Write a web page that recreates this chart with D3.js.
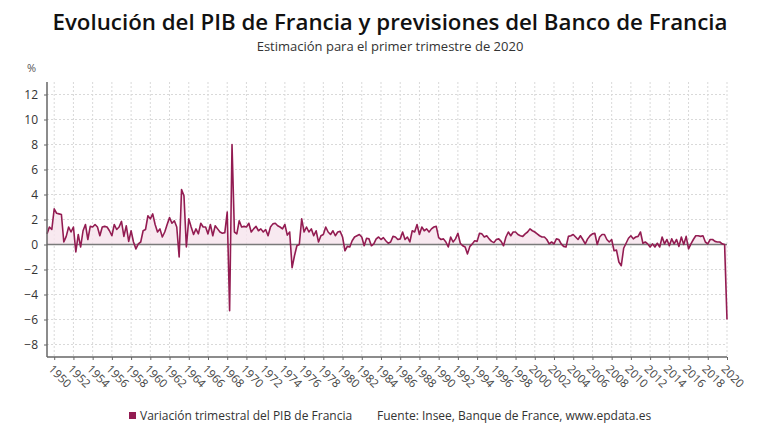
<!DOCTYPE html>
<html>
<head>
<meta charset="utf-8">
<script src="https://cdn.jsdelivr.net/npm/d3@7"></script>
<style>
  body { margin: 0; background: #fff; }
  svg { font-family: "Open Sans", "Noto Sans", sans-serif; }
</style>
</head>
<body>
<svg id="chart" width="780" height="440"></svg>
<script>
// Quarterly GDP growth (%), first value = 1949 Q2, last = 2020 Q1 (Banque de France estimate)
const startYear = 1949, startQuarter = 2;
const growth1949_1959 = [
  0.85, 1.4, 1.2,
  2.85, 2.5, 2.45, 2.4,   0.2, 0.65, 1.4, 1.0,   1.4, -0.6, 0.8, -0.2,
  1.1, 1.6, 0.4, 1.45,    1.4, 1.6, 1.4, 0.7,    1.4, 1.45, 1.4, 1.1,
  0.7, 1.6, 1.2, 1.4,     1.85, 0.65, 1.5, 0.25, 1.1, 0.2, -0.35, 0.05,
  0.2, 1.1, 1.2, 2.3
];
const growth1960_1969 = [
  2.05, 2.45, 1.6, 1.0,   1.25, 0.6, 1.0, 1.6,   2.15, 1.7, 1.9, 1.4,
  -1.0, 4.4, 3.9, -0.2,   2.05, 1.4, 0.8, 1.25,  0.85, 1.7, 1.4, 1.4,
  0.85, 1.6, 0.7, 1.5,    1.25, 1.0, 0.9, 0.95,  2.6, -5.3, 8.0, 1.0,
  0.85, 1.9, 1.4, 1.45
];
const growth1970_1979 = [
  1.4, 1.7, 1.0, 1.25,    1.45, 1.1, 1.25, 1.0,  1.2, 0.7, 1.4, 1.65,
  1.7, 1.5, 1.4, 1.25,    1.6, 0.75, 1.0, -1.85, -0.9, -0.1, 0.0, 2.05,
  1.0, 1.4, 1.0, 1.25,    0.7, 1.1, 0.2, 0.7,    0.8, 1.4, 1.0, 0.8,
  1.1, 0.7, 1.0, 1.05
];
const growth1980_1989 = [
  0.6, -0.5, -0.15, -0.2, 0.3, 0.6, 0.7, 0.8,    0.6, -0.1, 0.5, 0.45,
  -0.1, 0.05, 0.45, 0.6,  0.4, 0.55, 0.3, 0.1,   0.2, 0.65, 0.6, 0.4,
  0.45, 1.0, 0.4, 0.6,    0.2, 1.1, 1.0, 1.6,    0.8, 1.4, 1.1, 1.25,
  1.0, 1.25, 1.4, 1.45
];
const growth1990_1999 = [
  0.55, 0.4, 0.45, 0.2,   -0.2, 0.6, 0.2, 0.45,  0.9, 0.1, -0.1, -0.2,
  -0.75, -0.15, 0.05, 0.3, 0.25, 0.9, 0.85, 0.6, 0.7, 0.45, 0.25, 0.15,
  0.4, 0.45, 0.25, -0.1,  0.6, 1.0, 0.7, 1.0,    1.0, 0.8, 0.7, 0.65,
  0.85, 1.0, 1.25, 1.1
];
const growth2000_2009 = [
  1.0, 0.85, 0.7, 0.6,    0.6, 0.4, 0.05, 0.2,   0.05, 0.45, 0.4, 0.05,
  -0.15, -0.2, 0.65, 0.7, 0.8, 0.6, 0.4, 0.7,    0.4, 0.05, 0.45, 0.7,
  0.85, 0.9, 0.0, 0.6,    0.8, 0.8, 0.4, 0.2,    0.4, -0.5, -0.45, -1.4,
  -1.7, -0.3, 0.1, 0.5
];
const growth2010_2020 = [
  0.7, 0.45, 0.6, 0.65,   1.0, 0.1, 0.2, 0.05,   -0.2, 0.05, -0.2, 0.1,
  -0.2, 0.6, 0.05, 0.4,   -0.1, 0.45, 0.05, 0.4, -0.15, 0.6, 0.0, 0.65,
  -0.35, 0.05, 0.4, 0.7,  0.7, 0.65, 0.7, 0.2,   0.05, 0.4, 0.4, 0.25,
  0.2, 0.2, 0.05, 0.0,
  -6.0
];

const yTicks = [-8, -6, -4, -2, 0, 2, 4, 6, 8, 10, 12];
const xTickYears = [1950, 1952, 1954, 1956, 1958, 1960, 1962, 1964, 1966, 1968,
  1970, 1972, 1974, 1976, 1978, 1980, 1982, 1984, 1986, 1988, 1990, 1992, 1994,
  1996, 1998, 2000, 2002, 2004, 2006, 2008, 2010, 2012, 2014, 2016, 2018, 2020];

const titleText = "Evolución del PIB de Francia y previsiones del Banco de Francia";
const subtitleText = "Estimación para el primer trimestre de 2020";
const legendText = "Variación trimestral del PIB de Francia";
const sourceText = "Fuente: Insee, Banque de France, www.epdata.es";

// Build series: each quarter placed at its start (year + (q-1)/4)
const values = [].concat(growth1949_1959, growth1960_1969, growth1970_1979,
  growth1980_1989, growth1990_1999, growth2000_2009, growth2010_2020);
const data = values.map((v, i) => ({
  t: startYear + (startQuarter - 1) / 4 + i / 4,
  v: v
}));

const lineColor = "#931c52";
const svg = d3.select("#chart");

// Plot area
const plotLeft = 47, plotRight = 727, plotTop = 82, plotBottom = 357;

const x = d3.scaleLinear()
  .domain([data[0].t, data[data.length - 1].t])
  .range([plotLeft, plotRight]);

const y = d3.scaleLinear()
  .domain([-9, 13])
  .range([plotBottom, plotTop]);

// Titles
svg.append("text")
  .attr("x", 390).attr("y", 30)
  .attr("text-anchor", "middle")
  .attr("font-size", "22.3px")
  .attr("font-weight", "600")
  .attr("fill", "#111")
  .text(titleText);

svg.append("text")
  .attr("x", 390).attr("y", 51)
  .attr("text-anchor", "middle")
  .attr("font-size", "13px")
  .attr("fill", "#333")
  .text(subtitleText);

svg.append("text")
  .attr("x", 27).attr("y", 72)
  .attr("font-size", "11px")
  .attr("fill", "#555")
  .text("%");

// Grid
const grid = svg.append("g").attr("class", "grid");
grid.selectAll(".hgrid")
  .data(yTicks.filter(d => d !== 0))
  .enter().append("line")
  .attr("x1", plotLeft).attr("x2", plotRight)
  .attr("y1", d => y(d)).attr("y2", d => y(d))
  .attr("stroke", "#d9d9d9")
  .attr("stroke-dasharray", "2,2");

grid.selectAll(".vgrid")
  .data(xTickYears)
  .enter().append("line")
  .attr("x1", d => x(d)).attr("x2", d => x(d))
  .attr("y1", plotTop).attr("y2", plotBottom)
  .attr("stroke", "#d9d9d9")
  .attr("stroke-dasharray", "2,2");

// Area between line and zero
const area = d3.area()
  .x(d => x(d.t))
  .y0(y(0))
  .y1(d => y(d.v));

svg.append("path")
  .datum(data)
  .attr("d", area)
  .attr("fill", "#f6e3ec")
  .attr("opacity", 0.8);

// Zero line
svg.append("line")
  .attr("x1", plotLeft).attr("x2", plotRight)
  .attr("y1", y(0)).attr("y2", y(0))
  .attr("stroke", "#7a7a7a")
  .attr("stroke-width", 1.5);

// Line
const line = d3.line()
  .x(d => x(d.t))
  .y(d => y(d.v));

svg.append("path")
  .datum(data)
  .attr("d", line)
  .attr("fill", "none")
  .attr("stroke", lineColor)
  .attr("stroke-width", 1.6)
  .attr("stroke-linejoin", "round");

// Y axis
const yAxisG = svg.append("g")
  .attr("transform", `translate(${plotLeft},0)`)
  .call(d3.axisLeft(y).tickValues(yTicks).tickSize(3).tickPadding(6));
yAxisG.select(".domain")
  .attr("d", `M0,${plotTop}V${plotBottom}`)
  .attr("stroke", "#666").attr("stroke-width", 1.5);
yAxisG.selectAll(".tick line").attr("stroke", "#666");
yAxisG.selectAll(".tick text")
  .attr("font-size", "12px")
  .attr("fill", "#333")
  .attr("font-family", "Open Sans, sans-serif");

// X axis
const xAxisG = svg.append("g")
  .attr("transform", `translate(0,${plotBottom})`)
  .call(d3.axisBottom(x).tickValues(xTickYears).tickSize(3).tickFormat(d3.format("d")));
xAxisG.select(".domain")
  .attr("d", `M${plotLeft},0H${plotRight}`)
  .attr("stroke", "#666").attr("stroke-width", 1.5);
xAxisG.selectAll(".tick line").attr("stroke", "#666");
xAxisG.selectAll(".tick text")
  .attr("font-size", "11.5px")
  .attr("fill", "#444")
  .attr("font-family", "Open Sans, sans-serif")
  .attr("text-anchor", "start")
  .attr("x", 0).attr("y", 0).attr("dy", "0.35em")
  .attr("transform", "translate(-4,10) rotate(45)");

// Legend and source
svg.append("rect")
  .attr("x", 129).attr("y", 412)
  .attr("width", 7).attr("height", 7)
  .attr("fill", lineColor);

svg.append("text")
  .attr("x", 140).attr("y", 420)
  .attr("font-size", "12px")
  .attr("fill", "#333")
  .text(legendText);

svg.append("text")
  .attr("x", 377).attr("y", 420)
  .attr("font-size", "12px")
  .attr("fill", "#333")
  .text(sourceText);
</script>
</body>
</html>
